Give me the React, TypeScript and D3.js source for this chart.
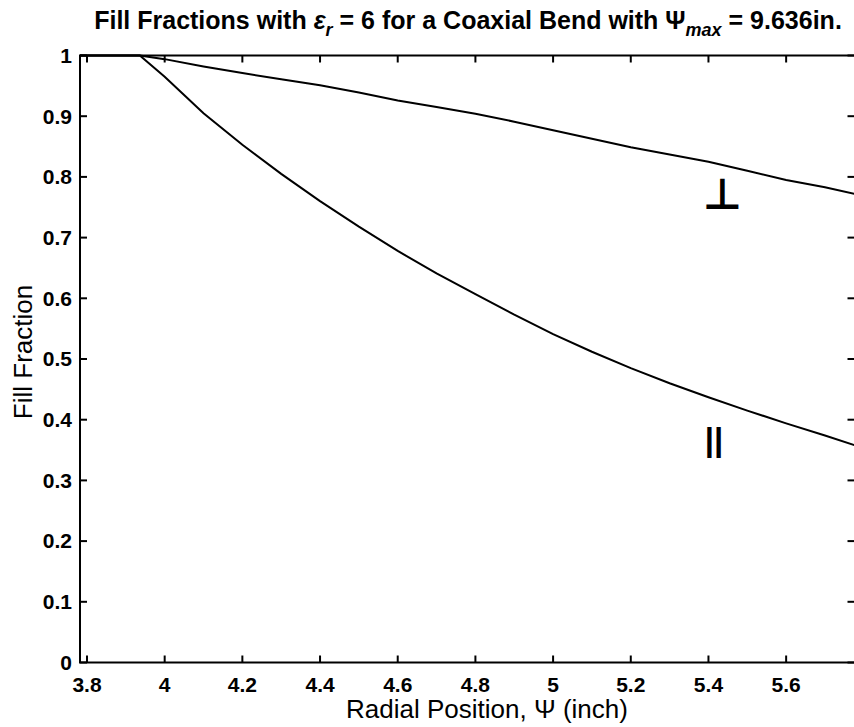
import { useMemo } from 'react';
import * as d3 from 'd3';

// radial position (inch)
const psi = [3.782, 3.936, 4.0, 4.1, 4.2, 4.3, 4.4, 4.5, 4.6, 4.7, 4.8, 4.9, 5.0, 5.1, 5.2, 5.3, 5.4, 5.5, 5.6, 5.7, 5.776];
// perpendicular polarization fill fraction
const perp = [1, 1, 0.994, 0.982, 0.971, 0.961, 0.951, 0.939, 0.926, 0.915, 0.904, 0.891, 0.877, 0.863, 0.849, 0.837, 0.825, 0.81, 0.795, 0.783, 0.772];
// parallel polarization fill fraction
const para = [1, 1, 0.965, 0.905, 0.853, 0.805, 0.76, 0.718, 0.678, 0.641, 0.607, 0.573, 0.541, 0.512, 0.485, 0.46, 0.437, 0.415, 0.394, 0.374, 0.358];

const xTicks = [3.8, 4, 4.2, 4.4, 4.6, 4.8, 5, 5.2, 5.4, 5.6];
const yTicks = [0, 0.1, 0.2, 0.3, 0.4, 0.5, 0.6, 0.7, 0.8, 0.9, 1];

const W = 854;
const H = 727;
const left = 80;
const right = 854.5;
const top = 55.5;
const bottom = 662.5;
const tick = 7;
const font = '"Liberation Sans", Arial, Helvetica, sans-serif';

export default function App() {
  const x = d3.scaleLinear().domain([3.782, 5.776]).range([left, right]);
  const y = d3.scaleLinear().domain([0, 1]).range([bottom, top]);

  const line = d3
    .line<number>()
    .x((_, i) => x(psi[i]))
    .y((d) => y(d));

  const paths = useMemo(() => [line(perp), line(para)], []);

  return (
    <svg
      width={W}
      height={H}
      style={{ position: 'absolute', left: 0, top: 0, background: '#fff' }}
      fontFamily={font}
    >
      <rect width={W} height={H} fill="#fff" />

      {/* title */}
      <text x={468} y={29} textAnchor="middle" fontSize={25} fontWeight="bold">
        Fill Fractions with <tspan fontStyle="italic">ε</tspan>
        <tspan fontStyle="italic" fontSize={18} dy={7}>r</tspan>
        <tspan dy={-7}> = 6 for a Coaxial Bend with Ψ</tspan>
        <tspan fontStyle="italic" fontSize={18} dy={7}>max</tspan>
        <tspan dy={-7}> = 9.636in.</tspan>
      </text>

      {/* curves */}
      {paths.map((d, i) => (
        <path key={i} d={d || ''} fill="none" stroke="#000" strokeWidth={2} />
      ))}

      {/* frame */}
      <path
        d={`M${right},${top}H${left}V${bottom}H${right}`}
        fill="none"
        stroke="#000"
        strokeWidth={2}
      />

      {/* x ticks */}
      {xTicks.map((t) => (
        <g key={'x' + t} transform={`translate(${x(t)},0)`}>
          <line y1={bottom} y2={bottom - tick} stroke="#000" strokeWidth={2} />
          <line y1={top} y2={top + tick} stroke="#000" strokeWidth={2} />
          <text y={692} textAnchor="middle" fontSize={21} fontWeight="bold">
            {t}
          </text>
        </g>
      ))}

      {/* y ticks */}
      {yTicks.map((t) => (
        <g key={'y' + t} transform={`translate(0,${y(t)})`}>
          <line x1={left} x2={left + tick} stroke="#000" strokeWidth={2} />
          <line x1={right - 0.5} x2={right - tick} stroke="#000" strokeWidth={2} />
          <text x={72} dy="0.35em" textAnchor="end" fontSize={21} fontWeight="bold">
            {t}
          </text>
        </g>
      ))}

      {/* axis titles */}
      <text x={487} y={718} textAnchor="middle" fontSize={26}>
        Radial Position, Ψ (inch)
      </text>
      <text
        transform={`translate(32,352) rotate(-90)`}
        textAnchor="middle"
        fontSize={26}
      >
        Fill Fraction
      </text>

      {/* polarization labels */}
      <text x={x(5.435)} y={209} textAnchor="middle" fontSize={43} fontWeight="bold" fontFamily='"DejaVu Sans"'>
        ⊥
      </text>
      <text x={x(5.414)} y={451} textAnchor="middle" fontSize={33} fontWeight="bold">
        ||
      </text>
    </svg>
  );
}
